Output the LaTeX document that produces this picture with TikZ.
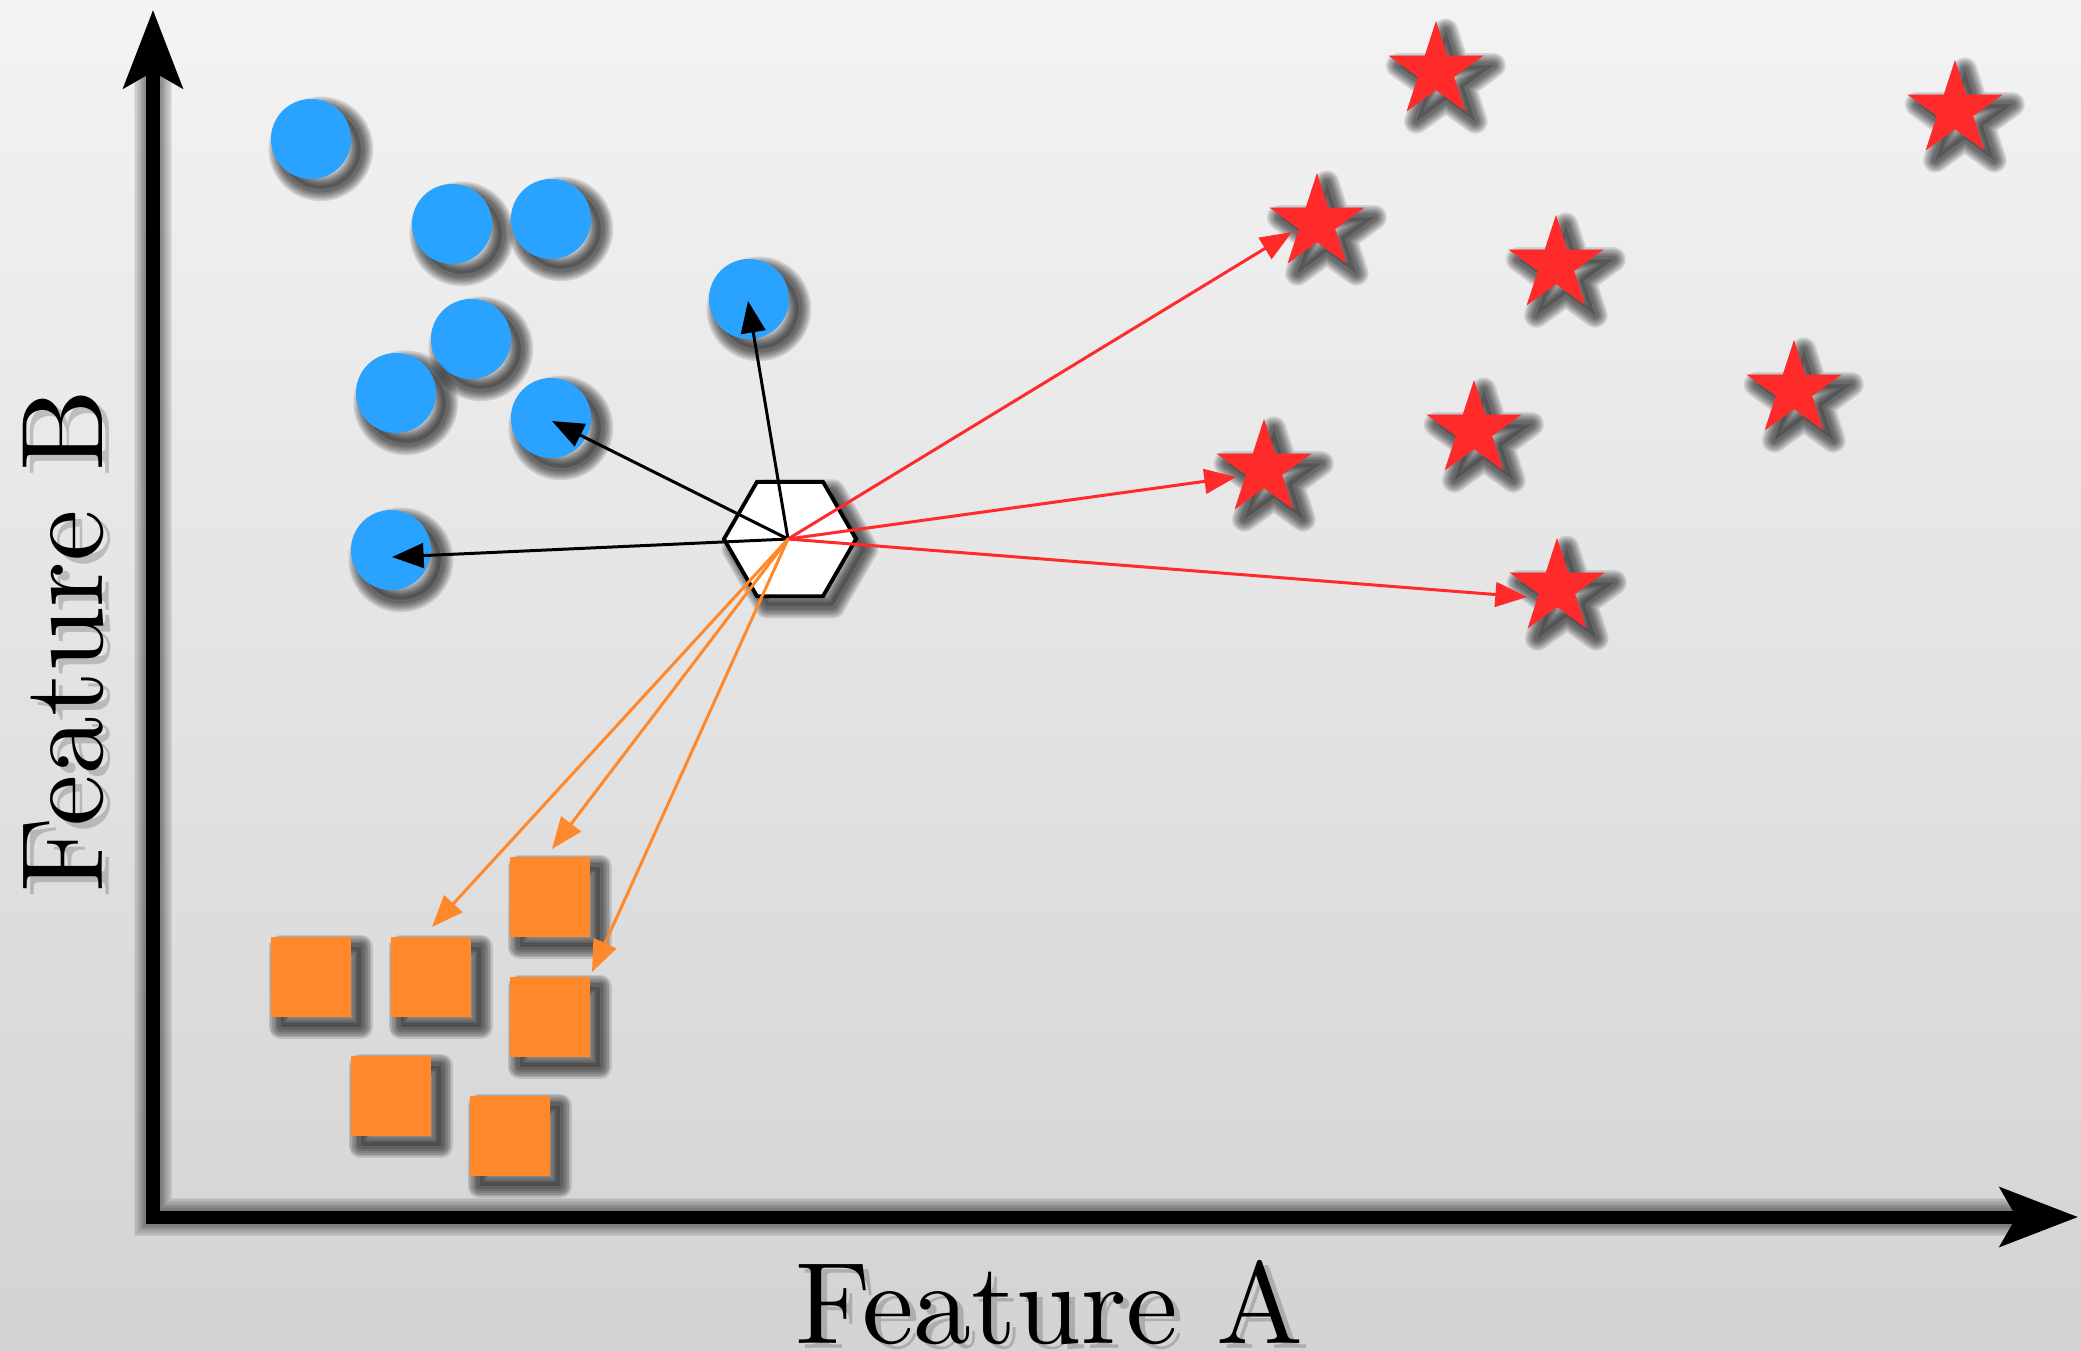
\documentclass[tikz,border=0pt]{standalone}
\usepackage{fontspec}
\newfontfamily\lmten{lmroman10-regular.otf}
\usetikzlibrary{shapes.geometric,arrows.meta}
\definecolor{bgtop}{HTML}{F3F3F3}
\definecolor{bgbot}{HTML}{D3D3D3}
\definecolor{dotblue}{HTML}{2AA2FF}
\definecolor{sqorange}{HTML}{FF882A}
\definecolor{starred}{HTML}{FF2A2A}
\tikzset{
  shfill/.style={preaction={fill=black, draw=none, opacity=0.18, transform canvas={xshift=2.8pt, yshift=-2.8pt}}},
  shstroke/.style={preaction={fill=none, draw=black, line width=#1, line join=round, opacity=0.12, transform canvas={xshift=2.8pt, yshift=-2.8pt}}},
  dropshade/.style={shfill, shstroke=7pt, shstroke=6pt, shstroke=5pt, shstroke=4pt, shstroke=3pt, shstroke=2pt},
  bluedot/.style={circle, fill=dotblue, minimum size=0.8cm, inner sep=0pt, dropshade},
  orangesq/.style={rectangle, fill=sqorange, minimum size=0.8cm, inner sep=0pt, dropshade},
  redstar/.style={star, star points=5, star point ratio=2.618, fill=starred, minimum size=1cm, inner sep=0pt, dropshade},
  query/.style={regular polygon, regular polygon sides=6, draw=black, line width=1.1pt, fill=white, minimum size=1.32cm, inner sep=0pt, dropshade},
  nn/.style={-{Triangle[length=9pt,width=7pt]}, line width=0.85pt},
  axisline/.style={{Stealth[length=22pt,width=16.5pt,inset=4.5pt]}-{Stealth[length=22pt,width=16.5pt,inset=4.5pt]}, line width=3.7pt, miter limit=10},
  lbl/.style={font=\lmten\fontsize{33}{40}\selectfont, inner sep=0pt},
}
\begin{document}
\begin{tikzpicture}[x=0.01cm,y=-0.01cm]
\useasboundingbox (0,0) rectangle (2081,1350);
\shade[top color=bgtop, bottom color=bgbot] (0,0) rectangle (2081,1350);

% axes shadow
\coordinate (ytip) at (153,10);
\coordinate (origin) at (153,1217);
\coordinate (xtip) at (2078,1217);
\foreach \w in {11pt, 10pt, 9pt, 8pt, 7pt, 6pt, 5pt, 4pt}
  \draw[axisline, draw=black, line width=\w, opacity=0.07, shift={(9,9)}] (ytip) -- (origin) -- (xtip);
\draw[axisline] (ytip) -- (origin) -- (xtip);

% labels (with soft shadow copies)
\node[lbl, anchor=base, text=black, opacity=0.18] at (1056,1348) {Feature A};
\node[lbl, anchor=base] (fa) at (1050,1343) {Feature A};
\node[lbl, anchor=base, rotate=90, text=black, opacity=0.18] at (109,647) {Feature B};
\node[lbl, anchor=base, rotate=90] (fb) at (103,641) {Feature B};

% blue circles
\node[bluedot] (c1) at (311,139) {};
\node[bluedot] (c2) at (452,224) {};
\node[bluedot] (c3) at (551,219) {};
\node[bluedot] (c4) at (471,339) {};
\node[bluedot] (c5) at (396,393) {};
\node[bluedot] (c6) at (551,418) {};
\node[bluedot] (c7) at (749,299) {};
\node[bluedot] (c8) at (391,550) {};

% orange squares
\node[orangesq] (s1) at (311,977) {};
\node[orangesq] (s2) at (431,977) {};
\node[orangesq] (s3) at (550,897) {};
\node[orangesq] (s4) at (550,1017) {};
\node[orangesq] (s5) at (391,1096) {};
\node[orangesq] (s6) at (510,1136) {};

% red stars
\node[redstar] (r1) at (1436,71) {};
\node[redstar] (r2) at (1955,110) {};
\node[redstar] (r3) at (1317,223) {};
\node[redstar] (r4) at (1556,265) {};
\node[redstar] (r5) at (1794,390) {};
\node[redstar] (r6) at (1474,430) {};
\node[redstar] (r7) at (1264,469) {};
\node[redstar] (r8) at (1557,588) {};

% query point
\node[query] (q) at (790,539) {};
\coordinate (qc) at (788,539);

% arrow tips
\coordinate (tc7) at (748,301);
\coordinate (tc6) at (552,421);
\coordinate (tc8) at (392,557);
\coordinate (tr3) at (1292,232);
\coordinate (tr7) at (1236,477);
\coordinate (tr8) at (1527,597);
\coordinate (ts2) at (432,927);
\coordinate (ts3) at (552,849);
\coordinate (ts4) at (592,972);

\draw[nn, black] (qc) -- (tc7);
\draw[nn, black] (qc) -- (tc6);
\draw[nn, black] (qc) -- (tc8);
\draw[nn, starred] (qc) -- (tr3);
\draw[nn, starred] (qc) -- (tr7);
\draw[nn, starred] (qc) -- (tr8);
\draw[nn, sqorange] (qc) -- (ts2);
\draw[nn, sqorange] (qc) -- (ts3);
\draw[nn, sqorange] (qc) -- (ts4);
\end{tikzpicture}
\end{document}
